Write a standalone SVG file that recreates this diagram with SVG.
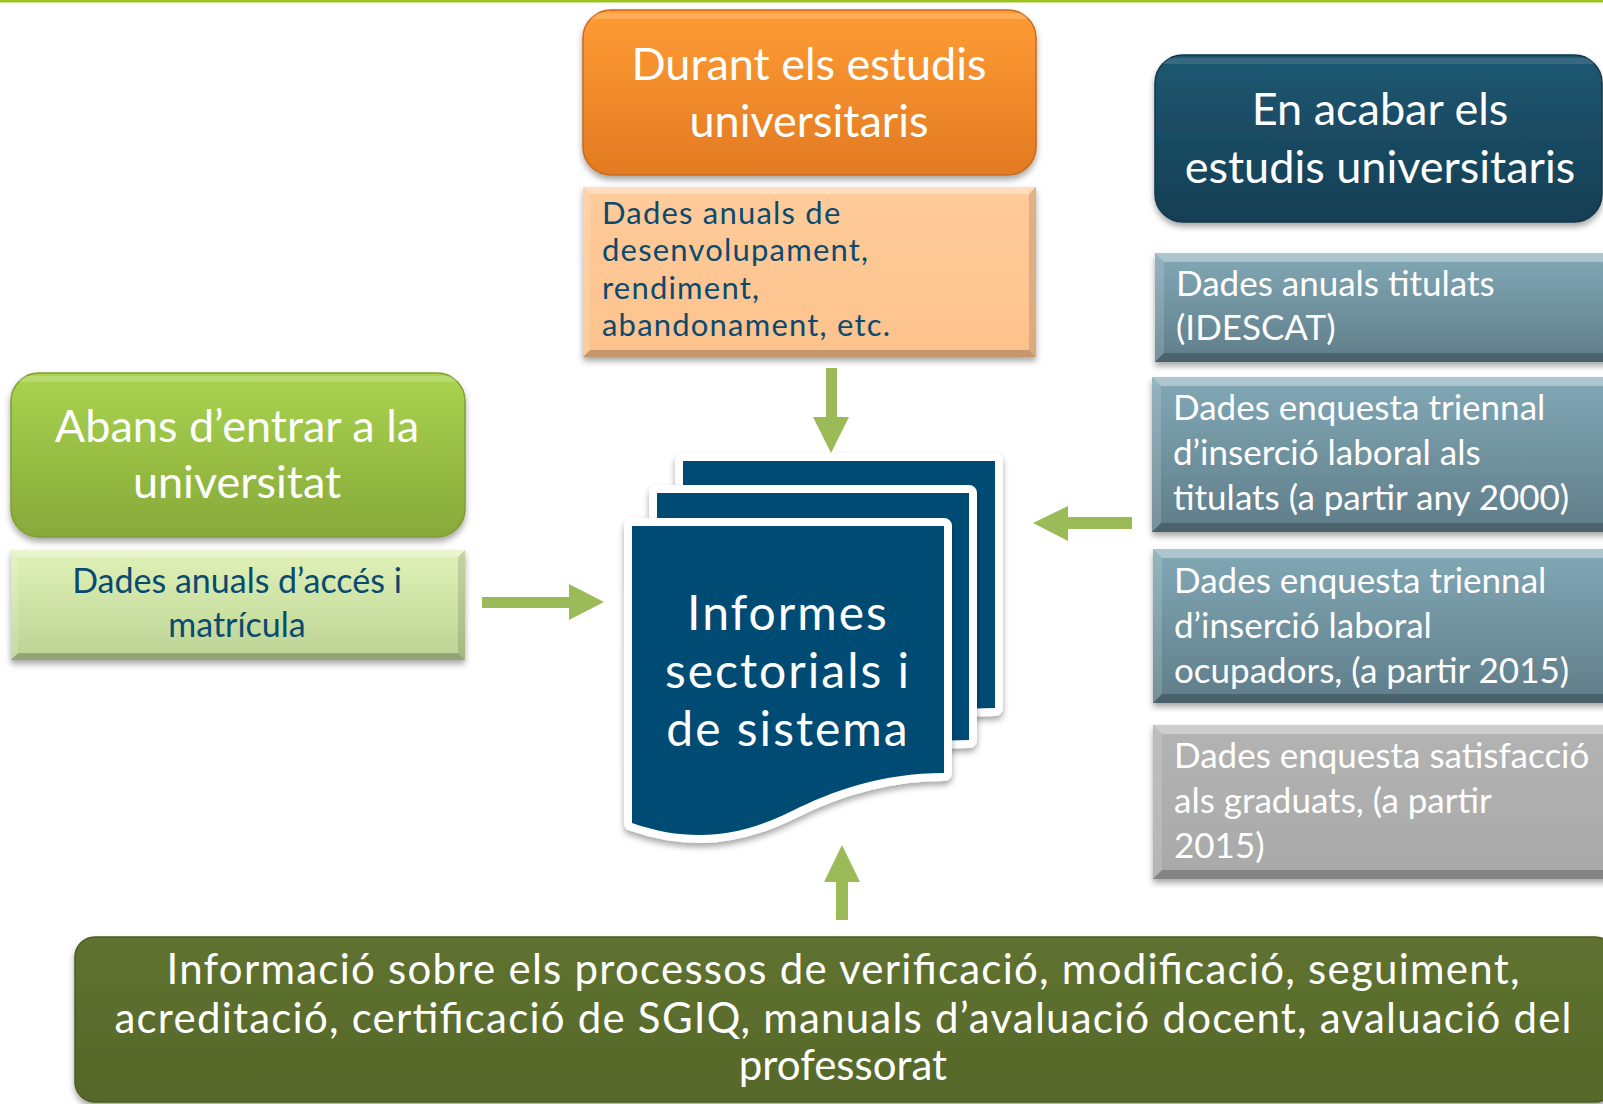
<svg xmlns="http://www.w3.org/2000/svg" width="1603" height="1104" viewBox="0 0 1603 1104">
<defs>
<style>
text{font-family:Lato,"Open Sans","Liberation Sans",sans-serif}
.w{fill:#ffffff}
.b{fill:#0B4A6F}
.hd{font-size:45px;text-anchor:middle}
.sm{font-size:35px}
.arr{fill:#9BBB59}
.bev-t{fill:#ffffff;fill-opacity:.35}
.bev-l{fill:#ffffff;fill-opacity:.15}
.bev-b{fill:#000000;fill-opacity:.22}
.bev-r{fill:#000000;fill-opacity:.12}
</style>
<filter id="sh" x="-10%" y="-10%" width="120%" height="130%">
<feDropShadow dx="0" dy="4" stdDeviation="3" flood-color="#000" flood-opacity=".35"/>
</filter>
<linearGradient id="gOr" x1="0" y1="0" x2="0" y2="1"><stop offset="0" stop-color="#FF9C34"/><stop offset="1" stop-color="#E27A22"/></linearGradient>
<linearGradient id="gPe" x1="0" y1="0" x2="0" y2="1"><stop offset="0" stop-color="#FFCB9A"/><stop offset="1" stop-color="#FCC28C"/></linearGradient>
<linearGradient id="gGr" x1="0" y1="0" x2="0" y2="1"><stop offset="0" stop-color="#A9D44F"/><stop offset="1" stop-color="#87A93A"/></linearGradient>
<linearGradient id="gLg" x1="0" y1="0" x2="0" y2="1"><stop offset="0" stop-color="#E0F2B8"/><stop offset="1" stop-color="#BCD394"/></linearGradient>
<linearGradient id="gDb" x1="0" y1="0" x2="0" y2="1"><stop offset="0" stop-color="#1F5771"/><stop offset="1" stop-color="#143E54"/></linearGradient>
<linearGradient id="gSt" x1="0" y1="0" x2="0" y2="1"><stop offset="0" stop-color="#82A8B6"/><stop offset="1" stop-color="#5F7D89"/></linearGradient>
<linearGradient id="gGy" x1="0" y1="0" x2="0" y2="1"><stop offset="0" stop-color="#B3B3B3"/><stop offset="1" stop-color="#A9A9A9"/></linearGradient>
<linearGradient id="gBt" x1="0" y1="0" x2="0" y2="1"><stop offset="0" stop-color="#5F7230"/><stop offset="1" stop-color="#56682A"/></linearGradient>
<path id="doc" d="M0,0 H312 V247 C250,247 200,265 160,285 C110,310 60,318 0,297 Z"/>
</defs>
<rect x="0" y="0" width="1603" height="1104" fill="#ffffff"/>
<rect x="0" y="0" width="1603" height="2.5" fill="#99C31E"/>

<g id="connectors">
<polygon class="arr" points="826,368 837,368 837,417 849,417 831,453 813,417 826,417"/>
<polygon class="arr" points="482,597 569,597 569,584 604,602 569,620 569,608 482,608"/>
<polygon class="arr" points="1132,517 1068,517 1068,506 1033,523 1068,541 1068,529 1132,529"/>
<polygon class="arr" points="836,920 836,882 824,882 842,845 860,882 848,882 848,920"/>
</g>

<g id="n-durant">
<rect x="583" y="10" width="453" height="165" rx="28" fill="url(#gOr)" stroke="#C96A1C" stroke-width="1.5" filter="url(#sh)"/>
<rect x="590" y="13" width="439" height="6" rx="3" fill="#ffffff" fill-opacity=".18"/>
<text class="w hd" x="809" y="80">Durant els estudis</text>
<text class="w hd" x="809" y="137">universitaris</text>
</g>

<g id="n-dades-durant">
<rect x="583" y="187" width="453" height="170" fill="url(#gPe)" filter="url(#sh)"/>
<polygon class="bev-t" points="583,187 1036,187 1029,194 590,194"/>
<polygon class="bev-l" points="583,187 590,194 590,350 583,357"/>
<polygon class="bev-b" points="583,357 590,350 1029,350 1036,357"/>
<polygon class="bev-r" points="1036,187 1036,357 1029,350 1029,194"/>
<text class="b" font-size="31" letter-spacing="1.2"><tspan x="602" y="224">Dades anuals de</tspan><tspan x="602" y="261.4">desenvolupament,</tspan><tspan x="602" y="298.8">rendiment,</tspan><tspan x="602" y="336.2">abandonament, etc.</tspan></text>
</g>

<g id="n-abans">
<rect x="11" y="373" width="454" height="164" rx="28" fill="url(#gGr)" stroke="#7F9E35" stroke-width="1.5" filter="url(#sh)"/>
<rect x="18" y="376" width="440" height="6" rx="3" fill="#ffffff" fill-opacity=".2"/>
<text class="w hd" x="237" y="442">Abans d’entrar a la</text>
<text class="w hd" x="237" y="498">universitat</text>
</g>

<g id="n-dades-acces">
<rect x="11" y="550" width="454" height="110" fill="url(#gLg)" filter="url(#sh)"/>
<polygon class="bev-t" points="11,550 465,550 458,557 18,557"/>
<polygon class="bev-l" points="11,550 18,557 18,653 11,660"/>
<polygon class="bev-b" points="11,660 18,653 458,653 465,660"/>
<polygon class="bev-r" points="465,550 465,660 458,653 458,557"/>
<text class="b" font-size="34" text-anchor="middle" x="237" y="593">Dades anuals d’accés i</text>
<text class="b" font-size="34" text-anchor="middle" x="237" y="637">matrícula</text>
</g>

<g id="n-acabar">
<rect x="1155" y="55" width="447" height="167" rx="28" fill="url(#gDb)" stroke="#123648" stroke-width="1.5" filter="url(#sh)"/>
<rect x="1162" y="58" width="433" height="6" rx="3" fill="#ffffff" fill-opacity=".12"/>
<text class="w hd" x="1380" y="125">En acabar els</text>
<text class="w hd" x="1380" y="183">estudis universitaris</text>
</g>

<g id="n-titulats">
<rect x="1155" y="253" width="460" height="109" fill="url(#gSt)" filter="url(#sh)"/>
<polygon class="bev-t" points="1155,253 1615,253 1606,262 1164,262"/>
<polygon class="bev-l" points="1155,253 1164,262 1164,353 1155,362"/>
<polygon class="bev-b" points="1155,362 1164,353 1606,353 1615,362"/>
<text class="w sm" x="1176" y="296">Dades anuals titulats</text>
<text class="w sm" x="1176" y="340">(IDESCAT)</text>
</g>

<g id="n-insercio-titulats">
<rect x="1152" y="377" width="463" height="155" fill="url(#gSt)" filter="url(#sh)"/>
<polygon class="bev-t" points="1152,377 1615,377 1606,386 1161,386"/>
<polygon class="bev-l" points="1152,377 1161,386 1161,523 1152,532"/>
<polygon class="bev-b" points="1152,532 1161,523 1606,523 1615,532"/>
<text class="w sm" x="1173" y="420">Dades enquesta triennal</text>
<text class="w sm" x="1173" y="465">d’inserció laboral als</text>
<text class="w sm" x="1173" y="510">titulats (a partir any 2000)</text>
</g>

<g id="n-insercio-ocupadors">
<rect x="1153" y="549" width="462" height="154" fill="url(#gSt)" filter="url(#sh)"/>
<polygon class="bev-t" points="1153,549 1615,549 1606,558 1162,558"/>
<polygon class="bev-l" points="1153,549 1162,558 1162,694 1153,703"/>
<polygon class="bev-b" points="1153,703 1162,694 1606,694 1615,703"/>
<text class="w sm" x="1174" y="593">Dades enquesta triennal</text>
<text class="w sm" x="1174" y="638">d’inserció laboral</text>
<text class="w sm" x="1174" y="683">ocupadors, (a partir 2015)</text>
</g>

<g id="n-satisfaccio">
<rect x="1153" y="725" width="462" height="154" fill="url(#gGy)" filter="url(#sh)"/>
<polygon class="bev-t" points="1153,725 1615,725 1606,734 1162,734"/>
<polygon class="bev-l" points="1153,725 1162,734 1162,870 1153,879"/>
<polygon class="bev-b" points="1153,879 1162,870 1606,870 1615,879"/>
<text class="w sm" x="1174" y="768">Dades enquesta satisfacció</text>
<text class="w sm" x="1174" y="813">als graduats, (a partir</text>
<text class="w sm" x="1174" y="858">2015)</text>
</g>

<g id="n-informes">
<use href="#doc" transform="translate(683,461)" fill="#004C73" stroke="#ffffff" stroke-width="16" stroke-linejoin="round" paint-order="stroke" filter="url(#sh)"/>
<use href="#doc" transform="translate(657,493)" fill="#004C73" stroke="#ffffff" stroke-width="16" stroke-linejoin="round" paint-order="stroke" filter="url(#sh)"/>
<use href="#doc" transform="translate(632,526)" fill="#004C73" stroke="#ffffff" stroke-width="16" stroke-linejoin="round" paint-order="stroke" filter="url(#sh)"/>
<text class="w" font-size="48" letter-spacing="2" text-anchor="middle"><tspan x="788" y="630">Informes</tspan><tspan x="788" y="688">sectorials i</tspan><tspan x="788" y="746">de sistema</tspan></text>
</g>

<g id="n-informacio">
<rect x="75" y="937" width="1540" height="165" rx="20" fill="url(#gBt)" stroke="#4B5C22" stroke-width="1.5" filter="url(#sh)"/>
<text class="w" font-size="42" text-anchor="middle" x="843" y="984" textLength="1353">Informació sobre els processos de verificació, modificació, seguiment,</text>
<text class="w" font-size="42" text-anchor="middle" x="843" y="1033" textLength="1457">acreditació, certificació de SGIQ, manuals d’avaluació docent, avaluació del</text>
<text class="w" font-size="42" text-anchor="middle" x="843" y="1080">professorat</text>
</g>
</svg>
